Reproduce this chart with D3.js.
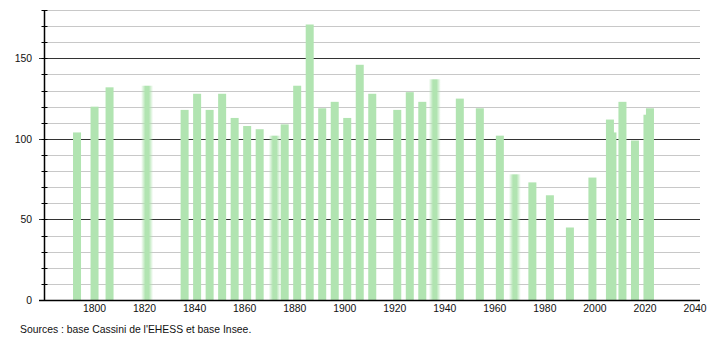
<!DOCTYPE html>
<html>
<head>
<meta charset="utf-8">
<script src="https://cdn.jsdelivr.net/npm/d3@7"></script>
<style>
  body { margin: 0; background: #fff; }
  svg { display: block; font-family: "Liberation Sans", Arial, sans-serif; }
</style>
</head>
<body>
<div id="chart"></div>
<script>
// ---- data
var years = [1793, 1800, 1806, 1821, 1836, 1841, 1846, 1851, 1856, 1861, 1866, 1872, 1876,
             1881, 1886, 1891, 1896, 1901, 1906, 1911, 1921, 1926, 1931, 1936, 1946, 1954,
             1962, 1968, 1975, 1982, 1990, 1999, 2006, 2007, 2011, 2016, 2021, 2022];
var population = [104, 120, 132, 133, 118, 128, 118, 128, 113, 108, 106, 102, 109,
                  133, 171, 119, 123, 113, 146, 128, 118, 129, 123, 137, 125, 119,
                  102, 78, 73, 65, 45, 76, 112, 104, 123, 99, 115, 119];
var xTicks = [1800, 1820, 1840, 1860, 1880, 1900, 1920, 1940, 1960, 1980, 2000, 2020, 2040];
var yMajor = [0, 50, 100, 150];
var yMinor = d3.range(0, 181, 10);
var source = "Sources : base Cassini de l'EHESS et base Insee.";

// ---- style
var W = 710, H = 340;
var barColor = "#b1e4b1";
var softBars = [1821, 1872, 1936, 1968];   // drawn with fuzzy edges in the original
var barW = 8;
var fontSize = 10.4;

var svg = d3.select("#chart").append("svg")
    .attr("width", W).attr("height", H);

var defs = svg.append("defs");
var grad = defs.append("linearGradient").attr("id", "soft")
    .attr("x1", "0%").attr("x2", "100%").attr("y1", "0%").attr("y2", "0%");
grad.append("stop").attr("offset", "0%").attr("stop-color", barColor).attr("stop-opacity", 0);
grad.append("stop").attr("offset", "35%").attr("stop-color", barColor).attr("stop-opacity", 1);
grad.append("stop").attr("offset", "65%").attr("stop-color", barColor).attr("stop-opacity", 1);
grad.append("stop").attr("offset", "100%").attr("stop-color", barColor).attr("stop-opacity", 0);

var x = d3.scaleLinear().domain([1780, 2042]).range([44.5, 700]);
var y = d3.scaleLinear().domain([0, 180]).range([300, 10]);

// light grid every 10
svg.append("g").selectAll("line")
    .data(yMinor.filter(v => yMajor.indexOf(v) < 0))
    .join("line")
      .attr("x1", 44.5).attr("x2", 700)
      .attr("y1", d => Math.round(y(d)) + 0.5).attr("y2", d => Math.round(y(d)) + 0.5)
      .attr("stroke", "#c8c8c8").attr("stroke-width", 1);

// dark grid at 50s
svg.append("g").selectAll("line")
    .data(yMajor.filter(v => v > 0))
    .join("line")
      .attr("x1", 39).attr("x2", 700)
      .attr("y1", d => Math.round(y(d)) + 0.5).attr("y2", d => Math.round(y(d)) + 0.5)
      .attr("stroke", "#333").attr("stroke-width", 1);

// bars
var data = years.map((yr, i) => ({year: yr, value: population[i]}));
svg.append("g").selectAll("rect")
    .data(data)
    .join("rect")
      .attr("x", d => x(d.year) - barW / 2 + (softBars.indexOf(d.year) >= 0 ? -2 : 0))
      .attr("width", d => softBars.indexOf(d.year) >= 0 ? barW + 4 : barW)
      .attr("y", d => y(d.value))
      .attr("height", d => y(0) - y(d.value))
      .attr("fill", d => softBars.indexOf(d.year) >= 0 ? "url(#soft)" : barColor);

// y axis with minor ticks crossing the line
var yAxis = svg.append("g");
yAxis.append("line")
    .attr("x1", 44.5).attr("x2", 44.5).attr("y1", 10).attr("y2", 300)
    .attr("stroke", "#000").attr("stroke-width", 1.5);
yAxis.selectAll("line.minor")
    .data(yMinor)
    .join("line").attr("class", "minor")
      .attr("x1", 41.5).attr("x2", 47.5)
      .attr("y1", d => Math.round(y(d)) + 0.5).attr("y2", d => Math.round(y(d)) + 0.5)
      .attr("stroke", "#000");
yAxis.selectAll("text")
    .data(yMajor)
    .join("text")
      .attr("x", 32).attr("y", d => y(d) + 4)
      .attr("text-anchor", "end")
      .attr("font-size", fontSize).attr("fill", "#111")
      .text(d => d);

// x axis
svg.append("line")
    .attr("x1", 39).attr("x2", 700).attr("y1", 300.5).attr("y2", 300.5)
    .attr("stroke", "#000").attr("stroke-width", 1.5);
svg.append("g").selectAll("text")
    .data(xTicks)
    .join("text")
      .attr("x", d => x(d)).attr("y", 312)
      .attr("text-anchor", "middle")
      .attr("font-size", fontSize).attr("fill", "#111")
      .text(d => d);

svg.append("text")
    .attr("x", 20).attr("y", 333)
    .attr("font-size", fontSize).attr("fill", "#111")
    .text(source);
</script>
</body>
</html>
